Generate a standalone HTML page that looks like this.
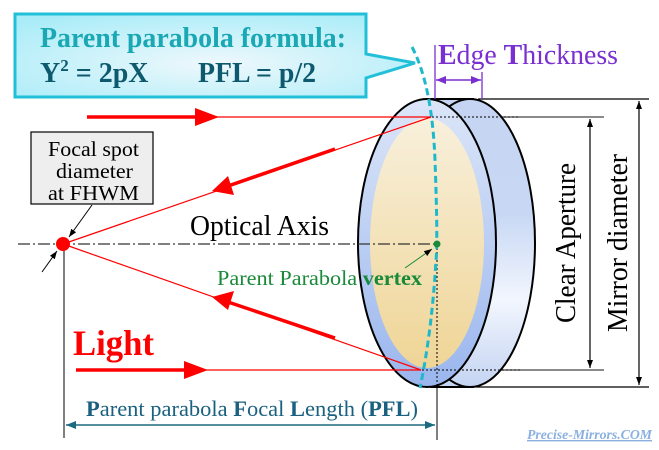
<!DOCTYPE html>
<html><head><meta charset="utf-8"><style>body{margin:0;background:#fff}svg{display:block}svg text{font-family:"Liberation Serif",serif}</style></head><body>
<svg width="659" height="450" viewBox="0 0 659 450" xmlns="http://www.w3.org/2000/svg">
<defs>
<linearGradient id="cream" x1="0" y1="0" x2="0" y2="1"><stop offset="0" stop-color="#f8f0dc"/><stop offset="1" stop-color="#efd596"/></linearGradient>
<linearGradient id="side" x1="0" y1="0" x2="0" y2="1"><stop offset="0" stop-color="#c4d4f2"/><stop offset="0.4" stop-color="#c8d8f4"/><stop offset="0.7" stop-color="#f2f6fe"/><stop offset="1" stop-color="#c4d4f2"/></linearGradient>
<linearGradient id="front" x1="0" y1="0" x2="0" y2="1"><stop offset="0" stop-color="#dce6f8"/><stop offset="1" stop-color="#9ab6ee"/></linearGradient>
<radialGradient id="box" cx="0.5" cy="0.6" r="0.7"><stop offset="0" stop-color="#eef8fc"/><stop offset="1" stop-color="#a8ecf8"/></radialGradient>
<marker id="ah" markerWidth="8" markerHeight="6" refX="8" refY="3" orient="auto-start-reverse" markerUnits="userSpaceOnUse"><path d="M0,0L8,3L0,6z" fill="#000"/></marker>
<marker id="ahp" markerWidth="10" markerHeight="8" refX="10" refY="4" orient="auto-start-reverse" markerUnits="userSpaceOnUse"><path d="M0,0L10,4L0,8z" fill="#7a2fd0"/></marker>
<marker id="aht" markerWidth="10" markerHeight="8" refX="10" refY="4" orient="auto-start-reverse" markerUnits="userSpaceOnUse"><path d="M0,0L10,4L0,8z" fill="#1a6a80"/></marker>
</defs>
<!-- callout -->
<path d="M15,14H366V54L415,63L366,78V97H15Z" fill="url(#box)" stroke="#22c0d8" stroke-width="3"/>
<text x="40" y="47" font-size="28" font-weight="bold" fill="#1aa8b4" textLength="306" lengthAdjust="spacingAndGlyphs">Parent parabola formula:</text>
<text x="40" y="82" font-size="28" font-weight="bold" fill="#0d5a6e">Y<tspan font-size="17" dy="-11">2</tspan><tspan dy="11"> = 2pX</tspan></text>
<text x="198" y="82" font-size="28" font-weight="bold" fill="#0d5a6e" textLength="118" lengthAdjust="spacingAndGlyphs">PFL = p/2</text>
<!-- right dims -->
<g stroke="#000" stroke-width="1.2">
<line x1="478" y1="99" x2="649" y2="99"/><line x1="430" y1="387" x2="649" y2="387"/>
<line x1="430" y1="117" x2="604" y2="117" stroke="#444"/><line x1="420" y1="370" x2="604" y2="370" stroke="#444"/>
<line x1="639" y1="101" x2="639" y2="385" marker-start="url(#ah)" marker-end="url(#ah)"/>
<line x1="590" y1="119" x2="590" y2="368" marker-start="url(#ah)" marker-end="url(#ah)"/>
</g>
<text transform="translate(575,243) rotate(-90)" text-anchor="middle" font-size="28" textLength="160" lengthAdjust="spacingAndGlyphs">Clear Aperture</text>
<text transform="translate(627,243) rotate(-90)" text-anchor="middle" font-size="28" textLength="178" lengthAdjust="spacingAndGlyphs">Mirror diameter</text>
<!-- mirror -->
<path d="M431,99H470A65,144 0 0 1 470,387H430Z" fill="url(#side)" stroke="none"/>
<ellipse cx="470" cy="243" rx="65" ry="144" fill="url(#side)" stroke="#000" stroke-width="2"/>
<path d="M431,99H474M430,387H474" stroke="#000" stroke-width="2"/>
<ellipse cx="427" cy="243" rx="69" ry="144" fill="url(#front)" stroke="#000" stroke-width="2"/>
<ellipse cx="427" cy="243" rx="57" ry="125" fill="url(#cream)"/>
<g stroke="#000" stroke-width="1" stroke-dasharray="2,2"><line x1="432" y1="117" x2="520" y2="117"/><line x1="422" y1="370" x2="520" y2="370"/><line x1="437" y1="244" x2="437" y2="390"/></g>
<!-- edge thickness -->
<line x1="435" y1="45" x2="435" y2="99" stroke="#7a2fd0" stroke-width="1.3"/>
<line x1="482" y1="72" x2="482" y2="99" stroke="#7a2fd0" stroke-width="1.3"/>
<line x1="436" y1="80" x2="481" y2="80" stroke="#7a2fd0" stroke-width="1.5" marker-start="url(#ahp)" marker-end="url(#ahp)"/>
<text x="438" y="64" font-size="28" fill="#7a2fd0" textLength="180" lengthAdjust="spacingAndGlyphs"><tspan font-weight="bold">E</tspan>dge <tspan font-weight="bold">T</tspan>hickness</text>
<!-- parabola -->
<path d="M412,47Q432,85 435,160Q438,243 436,260Q432,330 420,388" fill="none" stroke="#1cb8cc" stroke-width="3" stroke-dasharray="7,4"/>
<!-- optical axis -->
<line x1="18" y1="244" x2="437" y2="244" stroke="#333" stroke-width="1.2" stroke-dasharray="12,3,2,3"/>
<text x="190" y="235" font-size="28" textLength="139" lengthAdjust="spacingAndGlyphs">Optical Axis</text>
<line x1="64" y1="244" x2="64" y2="438" stroke="#000" stroke-width="1"/>
<line x1="437" y1="387" x2="437" y2="440" stroke="#000" stroke-width="1"/>
<line x1="66" y1="425" x2="435" y2="425" stroke="#1a6a80" stroke-width="1.5" marker-start="url(#aht)" marker-end="url(#aht)"/>
<text x="86" y="416" font-size="22" fill="#1a6080" textLength="332" lengthAdjust="spacingAndGlyphs"><tspan font-weight="bold">P</tspan>arent parabola <tspan font-weight="bold">F</tspan>ocal <tspan font-weight="bold">L</tspan>ength (<tspan font-weight="bold">PFL</tspan>)</text>
<!-- vertex -->
<circle cx="437" cy="244" r="3.5" fill="#1a8a3a"/>
<line x1="405" y1="268" x2="432" y2="249" stroke="#1a8a3a" stroke-width="1" marker-end="url(#ah)"/>
<text x="217" y="285" font-size="21" fill="#1a8a3a" textLength="205" lengthAdjust="spacingAndGlyphs">Parent Parabola <tspan font-weight="bold">vertex</tspan></text>
<!-- rays -->
<g stroke="#f00" stroke-width="1.2" fill="none">
<line x1="87" y1="117" x2="431" y2="117"/><line x1="76" y1="370" x2="421" y2="370"/>
<line x1="431" y1="117" x2="63" y2="244"/><line x1="421" y1="370" x2="63" y2="244"/>
</g>
<g stroke="#f00" stroke-width="3.5"><line x1="87" y1="117" x2="200" y2="117"/><line x1="76" y1="370" x2="190" y2="370"/>
<line x1="335" y1="149" x2="228" y2="186"/><line x1="335" y1="338" x2="228" y2="302"/></g>
<g fill="#f00">
<path d="M195,108L219,117L195,126Z"/><path d="M184,361L208,370L184,379Z"/>
<path d="M212,191L228,176L234,195Z"/><path d="M212,297L234,291L228,310Z"/>
</g>
<circle cx="63" cy="244" r="7" fill="#f00"/>
<text x="73" y="355" font-size="36" font-weight="bold" fill="#f00" textLength="81" lengthAdjust="spacingAndGlyphs">Light</text>
<!-- focal box -->
<rect x="31" y="132" width="122" height="72" fill="#eeeeee" stroke="#000" stroke-width="1.2"/>
<text x="48" y="156" font-size="21" textLength="91" lengthAdjust="spacingAndGlyphs">Focal spot</text>
<text x="56" y="178" font-size="21" textLength="77" lengthAdjust="spacingAndGlyphs">diameter</text>
<text x="48" y="200" font-size="21" textLength="91" lengthAdjust="spacingAndGlyphs">at FHWM</text>
<line x1="92" y1="205" x2="69" y2="237" stroke="#000" stroke-width="1" marker-end="url(#ah)"/>
<line x1="42" y1="272" x2="57" y2="251" stroke="#000" stroke-width="1" marker-end="url(#ah)"/>
<text x="527" y="439" font-size="14" font-style="italic" font-weight="bold" fill="#8ab0e0" text-decoration="underline" textLength="125" lengthAdjust="spacingAndGlyphs">Precise-Mirrors.COM</text>
</svg>
</body></html>
